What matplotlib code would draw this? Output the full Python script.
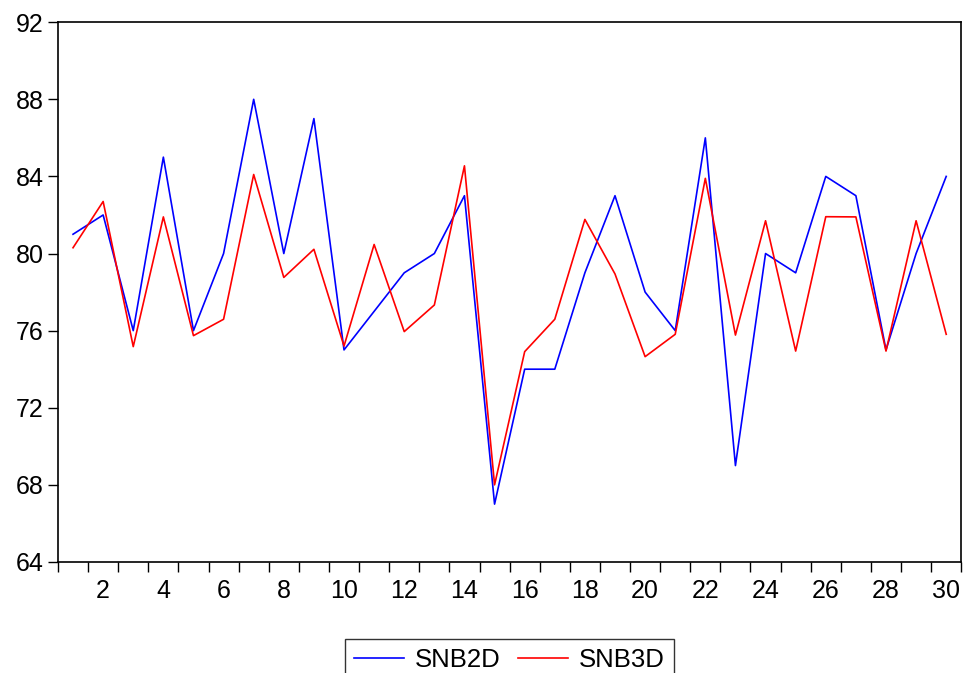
import numpy as np
import matplotlib
matplotlib.use("Agg")
from matplotlib import pyplot as plt
from matplotlib.ticker import FixedLocator

plt.rcParams['font.family'] = ['Liberation Sans', 'DejaVu Sans']

# observaciones 1..30
obs = np.arange(1, 31)

snb2d = [81, 82, 76, 85, 76, 80, 88, 80, 87, 75,
         77, 79, 80, 83, 67, 74, 74, 79, 83, 78,
         76, 86, 69, 80, 79, 84, 83, 75, 80, 84]

snb3d = [80.3, 82.7, 75.17, 81.9, 75.74, 76.59, 84.1, 78.76, 80.22, 75.2,
         80.47, 75.95, 77.33, 84.55, 68.0, 74.91, 76.59, 81.77, 78.94, 74.65,
         75.81, 83.9, 75.77, 81.7, 74.94, 81.91, 81.9, 74.94, 81.7, 75.81]

yticks = [64, 68, 72, 76, 80, 84, 88, 92]
xlabels = list(range(2, 31, 2))

fig = plt.figure(figsize=(9.63, 6.73), dpi=100)
ax = fig.add_axes([0.0602, 0.165, 0.938, 0.802])

ax.plot(obs, snb2d, color=(0, 0, 1), lw=1.2, label='SNB2D')
ax.plot(obs, snb3d, color=(1, 0, 0), lw=1.2, label='SNB3D')

ax.set_xlim(0.5, 30.5)
ax.set_ylim(64, 92)
ax.set_yticks(yticks)
ax.set_xticks(xlabels)
ax.xaxis.set_minor_locator(FixedLocator(np.arange(0.5, 31, 1)))
ax.tick_params(axis='x', which='major', length=0, labelsize=18, pad=12)
ax.tick_params(axis='x', which='minor', length=7.5, width=1, direction='out')
ax.tick_params(axis='y', length=7.5, width=1, direction='out', labelsize=18, pad=3)

for s in ax.spines.values():
    s.set_linewidth(1.2)

leg = fig.legend(loc='upper center', bbox_to_anchor=(0.529, 0.0505), ncol=2,
                 fontsize=18.5, frameon=True, fancybox=False, edgecolor='black',
                 handlelength=1.95, handletextpad=0.4, columnspacing=0.7,
                 borderpad=0.35, borderaxespad=0)
leg.get_frame().set_linewidth(1.0)

plt.savefig('out.png', dpi=100)
